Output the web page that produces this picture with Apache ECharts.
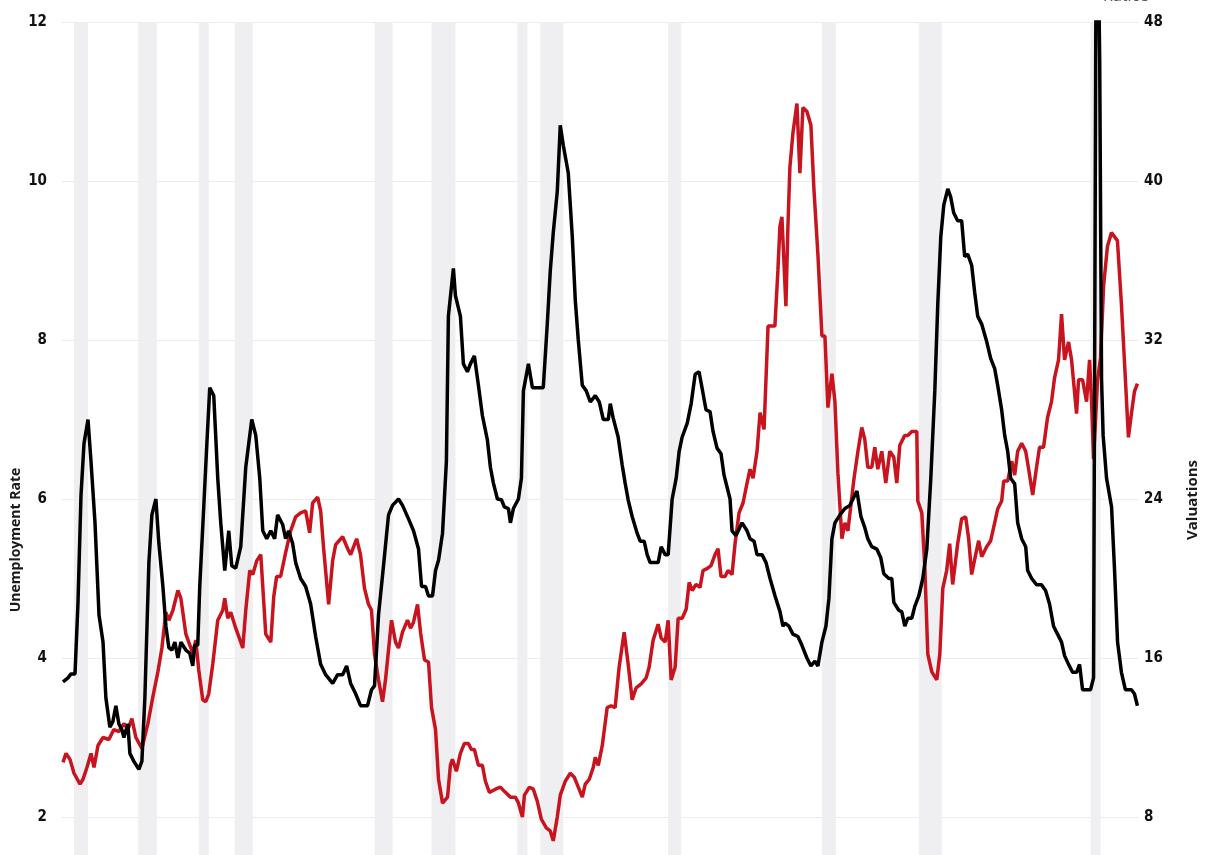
<!DOCTYPE html>
<html>
<head>
<meta charset="utf-8">
<title>Unemployment Rate vs Valuations</title>
<script src="https://cdn.jsdelivr.net/npm/echarts@6/dist/echarts.min.js"></script>
<style>
  html, body { margin: 0; padding: 0; background: #fff; }
  #chart { width: 1210px; height: 855px; }
</style>
</head>
<body>
<div id="chart"></div>
<script>
// unemployment rate, [decimal year, %]
const unemployment = [
  [1948.07, 3.7], [1948.42, 3.75], [1948.63, 3.8], [1948.91, 3.8], [1949.12, 4.7], [1949.33, 6.05],
  [1949.54, 6.7], [1949.82, 7.0], [1950.03, 6.47], [1950.31, 5.7], [1950.59, 4.54], [1950.87, 4.2],
  [1951.07, 3.5], [1951.35, 3.13], [1951.56, 3.2], [1951.77, 3.4], [1951.98, 3.17], [1952.19, 3.1],
  [1952.33, 3.0], [1952.61, 3.17], [1952.75, 2.8], [1953.03, 2.7], [1953.38, 2.6], [1953.59, 2.7],
  [1953.80, 3.5], [1954.08, 5.2], [1954.29, 5.8], [1954.57, 6.0], [1954.78, 5.44], [1955.06, 4.9],
  [1955.27, 4.4], [1955.48, 4.13], [1955.69, 4.1], [1955.90, 4.2], [1956.11, 4.0], [1956.32, 4.2],
  [1956.67, 4.1], [1956.94, 4.06], [1957.15, 3.9], [1957.29, 4.16], [1957.50, 4.16], [1957.64, 4.9],
  [1957.92, 5.9], [1958.13, 6.67], [1958.34, 7.4], [1958.62, 7.3], [1958.90, 6.26], [1959.11, 5.7],
  [1959.39, 5.1], [1959.67, 5.6], [1959.88, 5.16], [1960.16, 5.13], [1960.51, 5.4], [1960.86, 6.4],
  [1961.28, 7.0], [1961.56, 6.8], [1961.84, 6.26], [1962.05, 5.6], [1962.33, 5.5], [1962.61, 5.6],
  [1962.88, 5.5], [1963.09, 5.8], [1963.44, 5.68], [1963.65, 5.5], [1963.86, 5.6], [1964.14, 5.44],
  [1964.35, 5.2], [1964.70, 5.0], [1965.05, 4.9], [1965.40, 4.68], [1965.75, 4.27], [1966.10, 3.92],
  [1966.45, 3.79], [1966.94, 3.68], [1967.29, 3.79], [1967.64, 3.79], [1967.92, 3.9], [1968.20, 3.68],
  [1968.55, 3.55], [1968.89, 3.4], [1969.38, 3.4], [1969.66, 3.6], [1969.87, 3.65], [1970.15, 4.54],
  [1970.50, 5.16], [1970.85, 5.8], [1971.13, 5.92], [1971.55, 6.0], [1971.83, 5.92], [1972.25, 5.75],
  [1972.60, 5.6], [1972.95, 5.37], [1973.16, 4.9], [1973.44, 4.9], [1973.65, 4.78], [1973.93, 4.78],
  [1974.14, 5.1], [1974.35, 5.23], [1974.63, 5.57], [1974.90, 6.47], [1975.04, 8.3], [1975.39, 8.9],
  [1975.53, 8.56], [1975.88, 8.3], [1976.09, 7.7], [1976.37, 7.6], [1976.58, 7.7], [1976.86, 7.8],
  [1977.14, 7.43], [1977.42, 7.05], [1977.77, 6.74], [1977.98, 6.4], [1978.19, 6.2], [1978.47, 6.0],
  [1978.75, 5.99], [1978.96, 5.9], [1979.24, 5.88], [1979.38, 5.7], [1979.59, 5.88], [1979.94, 6.0],
  [1980.15, 6.26], [1980.29, 7.36], [1980.64, 7.7], [1980.92, 7.4], [1981.26, 7.4], [1981.68, 7.4],
  [1981.96, 8.2], [1982.17, 8.87], [1982.38, 9.35], [1982.66, 9.87], [1982.87, 10.7], [1983.08, 10.45],
  [1983.43, 10.1], [1983.71, 9.3], [1983.92, 8.5], [1984.13, 8.0], [1984.41, 7.43], [1984.69, 7.36],
  [1984.97, 7.22], [1985.32, 7.3], [1985.60, 7.22], [1985.88, 7.0], [1986.23, 7.0], [1986.37, 7.2],
  [1986.57, 7.02], [1986.92, 6.78], [1987.20, 6.43], [1987.41, 6.2], [1987.62, 5.99], [1987.90, 5.78],
  [1988.25, 5.57], [1988.46, 5.47], [1988.74, 5.47], [1988.95, 5.3], [1989.16, 5.2], [1989.44, 5.2],
  [1989.72, 5.2], [1989.93, 5.4], [1990.21, 5.3], [1990.42, 5.3], [1990.70, 6.0], [1990.98, 6.26],
  [1991.19, 6.6], [1991.40, 6.78], [1991.75, 6.95], [1992.03, 7.2], [1992.31, 7.57], [1992.58, 7.6],
  [1992.79, 7.4], [1993.07, 7.12], [1993.35, 7.1], [1993.56, 6.85], [1993.84, 6.64], [1994.12, 6.57],
  [1994.33, 6.3], [1994.61, 6.1], [1994.75, 6.0], [1994.89, 5.6], [1995.17, 5.54], [1995.59, 5.7],
  [1995.94, 5.6], [1996.15, 5.5], [1996.43, 5.47], [1996.64, 5.3], [1996.99, 5.3], [1997.27, 5.2],
  [1997.55, 5.0], [1997.90, 4.78], [1998.25, 4.58], [1998.45, 4.4], [1998.59, 4.44], [1998.87, 4.4],
  [1999.15, 4.3], [1999.50, 4.27], [1999.78, 4.16], [2000.13, 4.0], [2000.41, 3.9], [2000.69, 3.96],
  [2000.90, 3.9], [2001.18, 4.2], [2001.46, 4.4], [2001.67, 4.75], [2001.88, 5.5], [2002.09, 5.7],
  [2002.44, 5.8], [2002.79, 5.88], [2003.14, 5.92], [2003.35, 6.0], [2003.63, 6.1], [2003.91, 5.78],
  [2004.18, 5.64], [2004.39, 5.5], [2004.67, 5.4], [2005.02, 5.37], [2005.30, 5.26], [2005.51, 5.06],
  [2005.86, 5.0], [2006.07, 5.0], [2006.21, 4.7], [2006.56, 4.6], [2006.77, 4.58], [2006.98, 4.4],
  [2007.19, 4.5], [2007.47, 4.5], [2007.68, 4.65], [2007.96, 4.78], [2008.24, 5.0], [2008.52, 5.37],
  [2008.80, 6.26], [2009.08, 7.36], [2009.29, 8.46], [2009.50, 9.3], [2009.71, 9.7], [2009.99, 9.9],
  [2010.19, 9.8], [2010.40, 9.6], [2010.68, 9.5], [2010.96, 9.5], [2011.17, 9.05], [2011.38, 9.08],
  [2011.66, 8.94], [2011.87, 8.6], [2012.08, 8.3], [2012.36, 8.2], [2012.71, 7.98], [2012.99, 7.77],
  [2013.27, 7.64], [2013.48, 7.43], [2013.76, 7.12], [2013.97, 6.8], [2014.18, 6.6], [2014.39, 6.26],
  [2014.67, 6.19], [2014.88, 5.7], [2015.16, 5.5], [2015.44, 5.4], [2015.58, 5.1], [2015.86, 5.0],
  [2016.21, 4.92], [2016.55, 4.92], [2016.83, 4.85], [2017.11, 4.68], [2017.39, 4.4], [2017.67, 4.3],
  [2017.95, 4.2], [2018.16, 4.03], [2018.44, 3.92], [2018.72, 3.82], [2019.00, 3.82], [2019.21, 3.92],
  [2019.42, 3.6], [2019.70, 3.6], [2019.98, 3.6], [2020.19, 3.75], [2020.40, 14.7], [2020.62, 11.5],
  [2020.75, 7.5], [2020.86, 6.8], [2021.10, 6.26], [2021.45, 5.9], [2021.66, 5.1], [2021.87, 4.2],
  [2022.14, 3.82], [2022.42, 3.6], [2022.84, 3.6], [2023.05, 3.55], [2023.26, 3.4]
];

// valuation ratio, [decimal year, ratio]
const valuations = [
  [1948.07, 10.75], [1948.28, 11.2], [1948.56, 10.9], [1948.84, 10.2], [1949.26, 9.65], [1949.47, 9.9],
  [1949.75, 10.5], [1950.03, 11.2], [1950.24, 10.5], [1950.52, 11.6], [1950.87, 12.0], [1951.28, 11.9],
  [1951.63, 12.4], [1951.98, 12.3], [1952.33, 12.7], [1952.61, 12.4], [1952.89, 12.95], [1953.17, 12.0],
  [1953.59, 11.45], [1954.01, 12.7], [1954.36, 14.05], [1954.71, 15.3], [1954.99, 16.5], [1955.27, 18.3],
  [1955.48, 17.9], [1955.76, 18.4], [1956.11, 19.4], [1956.32, 19.0], [1956.67, 17.2], [1956.87, 16.8],
  [1957.15, 16.25], [1957.36, 16.9], [1957.57, 15.4], [1957.85, 13.9], [1958.06, 13.8], [1958.27, 14.2],
  [1958.55, 15.7], [1958.90, 17.9], [1959.25, 18.4], [1959.39, 19.0], [1959.60, 18.0], [1959.81, 18.3],
  [1960.16, 17.5], [1960.51, 16.8], [1960.65, 16.5], [1960.86, 18.4], [1961.14, 20.4], [1961.35, 20.2],
  [1961.63, 20.9], [1961.91, 21.2], [1962.26, 17.2], [1962.61, 16.8], [1962.82, 19.1], [1963.02, 20.1],
  [1963.30, 20.1], [1963.65, 21.3], [1964.00, 22.4], [1964.35, 23.1], [1964.70, 23.3], [1965.05, 23.4],
  [1965.33, 22.3], [1965.54, 23.8], [1965.89, 24.1], [1966.10, 23.4], [1966.31, 21.5], [1966.66, 18.7],
  [1966.94, 20.9], [1967.15, 21.7], [1967.64, 22.1], [1967.99, 21.5], [1968.20, 21.2], [1968.62, 22.0],
  [1968.89, 21.2], [1969.17, 19.5], [1969.45, 18.7], [1969.66, 18.4], [1969.87, 16.2], [1970.15, 14.9],
  [1970.43, 13.8], [1970.64, 14.9], [1971.06, 17.9], [1971.34, 16.8], [1971.55, 16.5], [1971.83, 17.3],
  [1972.18, 17.9], [1972.39, 17.5], [1972.60, 17.8], [1972.88, 18.7], [1973.09, 17.3], [1973.37, 15.9],
  [1973.65, 15.8], [1973.86, 13.5], [1974.14, 12.4], [1974.35, 9.9], [1974.63, 8.7], [1974.98, 9.0],
  [1975.18, 10.6], [1975.32, 10.9], [1975.60, 10.3], [1975.88, 11.2], [1976.16, 11.7], [1976.44, 11.7],
  [1976.65, 11.4], [1976.86, 11.4], [1977.14, 10.6], [1977.42, 10.6], [1977.63, 9.8], [1977.91, 9.24],
  [1978.33, 9.4], [1978.68, 9.5], [1979.03, 9.24], [1979.38, 9.0], [1979.73, 9.0], [1979.94, 8.7],
  [1980.22, 8.0], [1980.36, 9.1], [1980.71, 9.5], [1980.98, 9.4], [1981.26, 8.8], [1981.54, 7.9],
  [1981.89, 7.45], [1982.17, 7.3], [1982.38, 6.8], [1982.66, 8.0], [1982.87, 9.1], [1983.22, 9.8],
  [1983.57, 10.2], [1983.85, 10.0], [1984.13, 9.5], [1984.41, 9.0], [1984.62, 9.65], [1984.90, 9.9],
  [1985.18, 10.5], [1985.32, 11.0], [1985.53, 10.6], [1985.81, 11.6], [1986.15, 13.5], [1986.43, 13.6],
  [1986.71, 13.5], [1986.99, 15.55], [1987.34, 17.3], [1987.62, 15.7], [1987.90, 13.9], [1988.18, 14.5],
  [1988.53, 14.7], [1988.88, 15.0], [1989.09, 15.55], [1989.37, 16.9], [1989.72, 17.7], [1989.93, 17.0],
  [1990.21, 16.8], [1990.42, 17.9], [1990.63, 14.9], [1990.91, 15.55], [1991.12, 18.0], [1991.40, 18.0],
  [1991.68, 18.45], [1991.89, 19.8], [1992.10, 19.4], [1992.37, 19.7], [1992.65, 19.55], [1992.86, 20.4],
  [1993.14, 20.5], [1993.42, 20.65], [1993.70, 21.2], [1993.91, 21.5], [1994.12, 20.1], [1994.40, 20.1],
  [1994.61, 20.4], [1994.89, 20.2], [1995.10, 21.75], [1995.38, 23.3], [1995.66, 23.8], [1995.94, 24.8],
  [1996.15, 25.5], [1996.36, 25.05], [1996.64, 26.4], [1996.85, 28.35], [1997.13, 27.5], [1997.41, 32.7],
  [1997.69, 32.7], [1997.89, 32.7], [1998.10, 35.5], [1998.24, 37.7], [1998.38, 38.2], [1998.66, 33.7],
  [1998.80, 37.7], [1998.94, 40.7], [1999.15, 42.4], [1999.43, 43.9], [1999.64, 40.4], [1999.85, 43.7],
  [2000.13, 43.5], [2000.41, 42.8], [2000.62, 39.6], [2000.90, 36.3], [2001.18, 32.2], [2001.39, 32.2],
  [2001.60, 28.6], [2001.88, 30.3], [2002.09, 28.9], [2002.30, 25.3], [2002.58, 22.0], [2002.79, 22.8],
  [2003.00, 22.4], [2003.21, 23.7], [2003.42, 25.0], [2003.70, 26.4], [2003.97, 27.6], [2004.18, 27.0],
  [2004.39, 25.6], [2004.67, 25.6], [2004.88, 26.6], [2005.09, 25.5], [2005.37, 26.4], [2005.65, 24.8],
  [2005.93, 26.4], [2006.21, 26.1], [2006.42, 24.8], [2006.63, 26.7], [2006.98, 27.2], [2007.19, 27.2],
  [2007.47, 27.4], [2007.82, 27.4], [2007.89, 23.9], [2008.17, 23.3], [2008.38, 20.6], [2008.59, 16.2],
  [2008.87, 15.3], [2009.22, 14.9], [2009.43, 16.2], [2009.64, 19.5], [2009.91, 20.4], [2010.12, 21.75],
  [2010.33, 19.7], [2010.68, 21.75], [2010.96, 23.0], [2011.24, 23.1], [2011.45, 22.0], [2011.66, 20.2],
  [2011.94, 21.2], [2012.15, 21.9], [2012.36, 21.1], [2012.71, 21.6], [2012.99, 21.9], [2013.27, 22.8],
  [2013.48, 23.5], [2013.76, 23.9], [2013.90, 24.9], [2014.18, 24.9], [2014.46, 25.9], [2014.67, 25.2],
  [2014.88, 26.4], [2015.16, 26.8], [2015.44, 26.4], [2015.65, 25.5], [2015.93, 24.2], [2016.20, 25.6],
  [2016.41, 26.6], [2016.69, 26.6], [2016.97, 28.1], [2017.25, 28.9], [2017.46, 30.1], [2017.74, 31.0],
  [2017.95, 33.3], [2018.16, 31.0], [2018.44, 31.9], [2018.65, 31.0], [2019.00, 28.3], [2019.14, 30.0],
  [2019.42, 30.0], [2019.70, 28.9], [2019.91, 31.0], [2020.05, 28.9], [2020.19, 26.0], [2020.47, 30.0],
  [2020.68, 31.1], [2020.89, 34.7], [2021.16, 36.7], [2021.44, 37.4], [2021.86, 37.0], [2022.14, 33.8],
  [2022.42, 30.0], [2022.63, 27.1], [2022.84, 28.3], [2023.05, 29.4], [2023.26, 29.8]
];

// recession periods, decimal years
const recessionStart = [1948.84, 1953.33, 1957.57, 1960.09, 1969.87, 1973.86, 1979.87, 1981.47, 1990.42, 2001.18, 2007.96, 2019.98];
const recessionEnd   = [1949.82, 1954.64, 1958.27, 1961.35, 1971.13, 1975.53, 1980.57, 1983.08, 1991.33, 2002.16, 2009.57, 2020.68];

const recessionAreas = recessionStart.map((s, i) => [{ xAxis: s }, { xAxis: recessionEnd[i] }]);

const tickFont = "'Liberation Sans Narrow', 'DejaVu Sans Condensed', 'Roboto', sans-serif";

let myChart = echarts.init(document.getElementById('chart'));

// grid runs past the bottom edge (axis starts at 0), the picture is cropped at 855
myChart.setOption({
  animation: false,
  backgroundColor: '#ffffff',
  grid: { left: 62, right: 72, top: 22, height: 954, outerBoundsMode: 'none', containLabel: false },
  xAxis: {
    type: 'value',
    min: 1948,
    max: 2023.3,
    show: false
  },
  yAxis: [{
    type: 'value',
    min: 0,
    max: 12,
    interval: 2,
    axisLine: { show: false },
    axisTick: { show: false },
    axisLabel: { margin: 15, color: '#111', fontSize: 15, fontWeight: 'bold', fontFamily: tickFont },
    splitLine: { lineStyle: { color: '#ececec', width: 1 } }
  }, {
    type: 'value',
    min: 0,
    max: 48,
    interval: 8,
    position: 'right',
    axisLine: { show: false },
    axisTick: { show: false },
    axisLabel: { margin: 6, color: '#111', fontSize: 15, fontWeight: 'bold', fontFamily: tickFont },
    splitLine: { show: false }
  }],
  graphic: [{
    type: 'text',
    x: 16, y: 540,
    rotation: Math.PI / 2,
    style: { text: 'Unemployment Rate', fill: '#1a1a1a', font: "bold 14px 'Open Sans', sans-serif", align: 'center', verticalAlign: 'middle' }
  }, {
    type: 'text',
    x: 1193, y: 500,
    rotation: Math.PI / 2,
    style: { text: 'Valuations', fill: '#1a1a1a', font: "bold 15px 'Open Sans', sans-serif", align: 'center', verticalAlign: 'middle' }
  }, {
    type: 'text',
    x: 1103, y: 4,
    style: { text: 'Ratios', fill: '#555', font: "16px 'Open Sans', sans-serif", align: 'left', verticalAlign: 'bottom' }
  }],
  series: [{
    name: 'Recessions',
    type: 'line',
    data: [],
    z: 1,
    silent: true,
    markArea: {
      silent: true,
      itemStyle: { color: '#efeef0' },
      data: recessionAreas
    }
  }, {
    name: 'Valuations',
    type: 'line',
    yAxisIndex: 1,
    data: valuations,
    showSymbol: false,
    z: 3,
    lineStyle: { color: '#c8141e', width: 3.5 },
    itemStyle: { color: '#c8141e' }
  }, {
    name: 'Unemployment Rate',
    type: 'line',
    yAxisIndex: 0,
    data: unemployment,
    showSymbol: false,
    z: 4,
    lineStyle: { color: '#000000', width: 3.5 },
    itemStyle: { color: '#000000' }
  }]
});
</script>
</body>
</html>
